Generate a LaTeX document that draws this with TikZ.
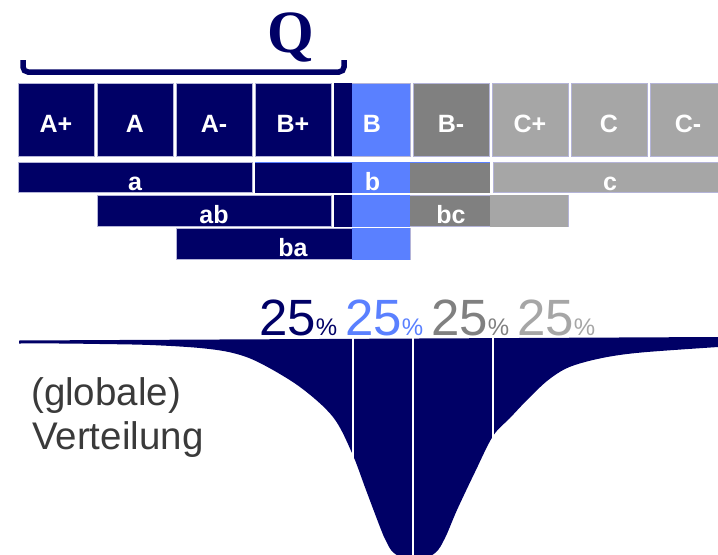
\documentclass[tikz,border=0pt]{standalone}
\usepackage{fontspec}
\setmainfont{Liberation Sans}
\newfontfamily\qfont{Liberation Serif}
\usepackage{tikz}
\usetikzlibrary{shapes}

\definecolor{navy}{HTML}{000066}
\definecolor{bblue}{HTML}{5A80FF}
\definecolor{bgrey}{HTML}{808080}
\definecolor{lgrey}{HTML}{A6A6A6}
\definecolor{edge}{HTML}{B4B4D8}
\definecolor{notegrey}{HTML}{3A3A3A}
\newcommand{\smallpct}{{\fontsize{24bp}{26bp}\selectfont\%}}

\begin{document}
\begin{tikzpicture}[
  grade/.style={draw=edge,line width=0.6bp,minimum width=76bp,minimum height=73bp,inner sep=0pt,
    text height=25bp,text depth=0pt,text=white,font=\fontsize{25bp}{30bp}\selectfont\bfseries},
  bar/.style={grade,minimum width=234bp,minimum height=30.5bp},
  share/.style={anchor=base west,inner sep=0pt,font=\fontsize{51bp}{55bp}\selectfont},
  note/.style={anchor=base west,inner sep=0pt,text=notegrey,font=\fontsize{38.5bp}{45bp}\selectfont},
  divider/.style={draw=white,line width=2bp}]

\useasboundingbox (0bp,0bp) rectangle (718bp,-555bp);
\clip (0bp,0bp) rectangle (718bp,-555bp);

\node (Q) at (291bp,-52bp)[anchor=base,inner sep=0pt,text=navy,font={\fontsize{60bp}{64bp}\qfont\bfseries}] {Q};
\draw [navy,line width=5.5bp,rounded corners=5bp] (23bp,-60bp) -- (23bp,-72bp) -- (344bp,-72bp) -- (344bp,-60bp);

\node (Ap) at (56bp,-119.5bp)[grade,fill=navy] {A+};
\node (A) at (135bp,-119.5bp)[grade,fill=navy] {A};
\node (Am) at (214bp,-119.5bp)[grade,fill=navy] {A-};
\node (Bp) at (293bp,-119.5bp)[grade,fill=navy] {B+};
\node (B) at (372bp,-119.5bp)[grade,fill=bblue] {B};
\node (Bm) at (451bp,-119.5bp)[grade,fill=bgrey] {B-};
\node (Cp) at (530bp,-119.5bp)[grade,fill=lgrey] {C+};
\node (C) at (609bp,-119.5bp)[grade,fill=lgrey] {C};
\node (Cm) at (688bp,-119.5bp)[grade,fill=lgrey] {C-};
\fill [navy] (B.north west) rectangle ([xshift=18bp]B.south west);

\node (a) at (135bp,-177.5bp)[bar,fill=navy] {a};
\node (b) at (372.5bp,-177.5bp)[bar,fill=bblue,draw=bblue] {b};
\fill [navy] (b.north west) rectangle ([xshift=97bp]b.south west);
\fill [bgrey] ([xshift=-80bp]b.north east) rectangle (b.south east);
\draw [bblue,line width=0.8bp] (b.north west) -- (b.north east);
\node (c) at (610bp,-177.5bp)[bar,fill=lgrey] {c};

\node (ab) at (214bp,-211bp)[bar,fill=navy] {ab};
\node (bc) at (451bp,-211bp)[bar,fill=bgrey] {bc};
\fill [navy] (bc.north west) rectangle ([xshift=18bp]bc.south west);
\fill [bblue] ([xshift=18bp]bc.north west) rectangle ([xshift=76bp]bc.south west);
\fill [lgrey] ([xshift=-78bp]bc.north east) rectangle (bc.south east);

\node (ba) at (293bp,-244bp)[bar,fill=navy] {ba};
\fill [bblue] ([xshift=-58bp]ba.north east) rectangle (ba.south east);

\node (pa) at (259bp,-335bp)[share,text=navy] {25\smallpct};
\node (pb) at (345bp,-335bp)[share,text=bblue] {25\smallpct};
\node (pc) at (431bp,-335bp)[share,text=bgrey] {25\smallpct};
\node (pd) at (517bp,-335bp)[share,text=lgrey] {25\smallpct};

\fill [navy] (19bp,-340.5bp) -- (718bp,-337bp) -- plot[smooth,tension=0.55] coordinates {
  (718bp,-347bp) (647bp,-352bp) (613bp,-356bp) (585bp,-362bp) (565bp,-369bp) (547bp,-381bp)
  (528bp,-399bp) (510bp,-418bp) (493bp,-436bp) (475bp,-472bp) (457bp,-510bp) (445bp,-538bp)
  (435bp,-553bp) (414bp,-563bp) (394bp,-553bp) (386bp,-541bp) (380bp,-527bp) (366bp,-490bp)
  (352bp,-453bp) (333bp,-417bp) (300bp,-387bp) (260bp,-363bp)
  (233bp,-353bp) (200bp,-348bp) (150bp,-345bp) (100bp,-344bp) (60bp,-343.5bp) (19bp,-343.5bp)} -- cycle;
\draw [divider] (353bp,-336bp) -- (353bp,-560bp);
\draw [divider] (413bp,-336bp) -- (413bp,-560bp);
\draw [divider] (493bp,-336bp) -- (493bp,-560bp);

\node (glob) at (31bp,-405bp)[note] {(globale)};
\node (vert) at (32bp,-449bp)[note] {Verteilung};
\end{tikzpicture}
\end{document}
